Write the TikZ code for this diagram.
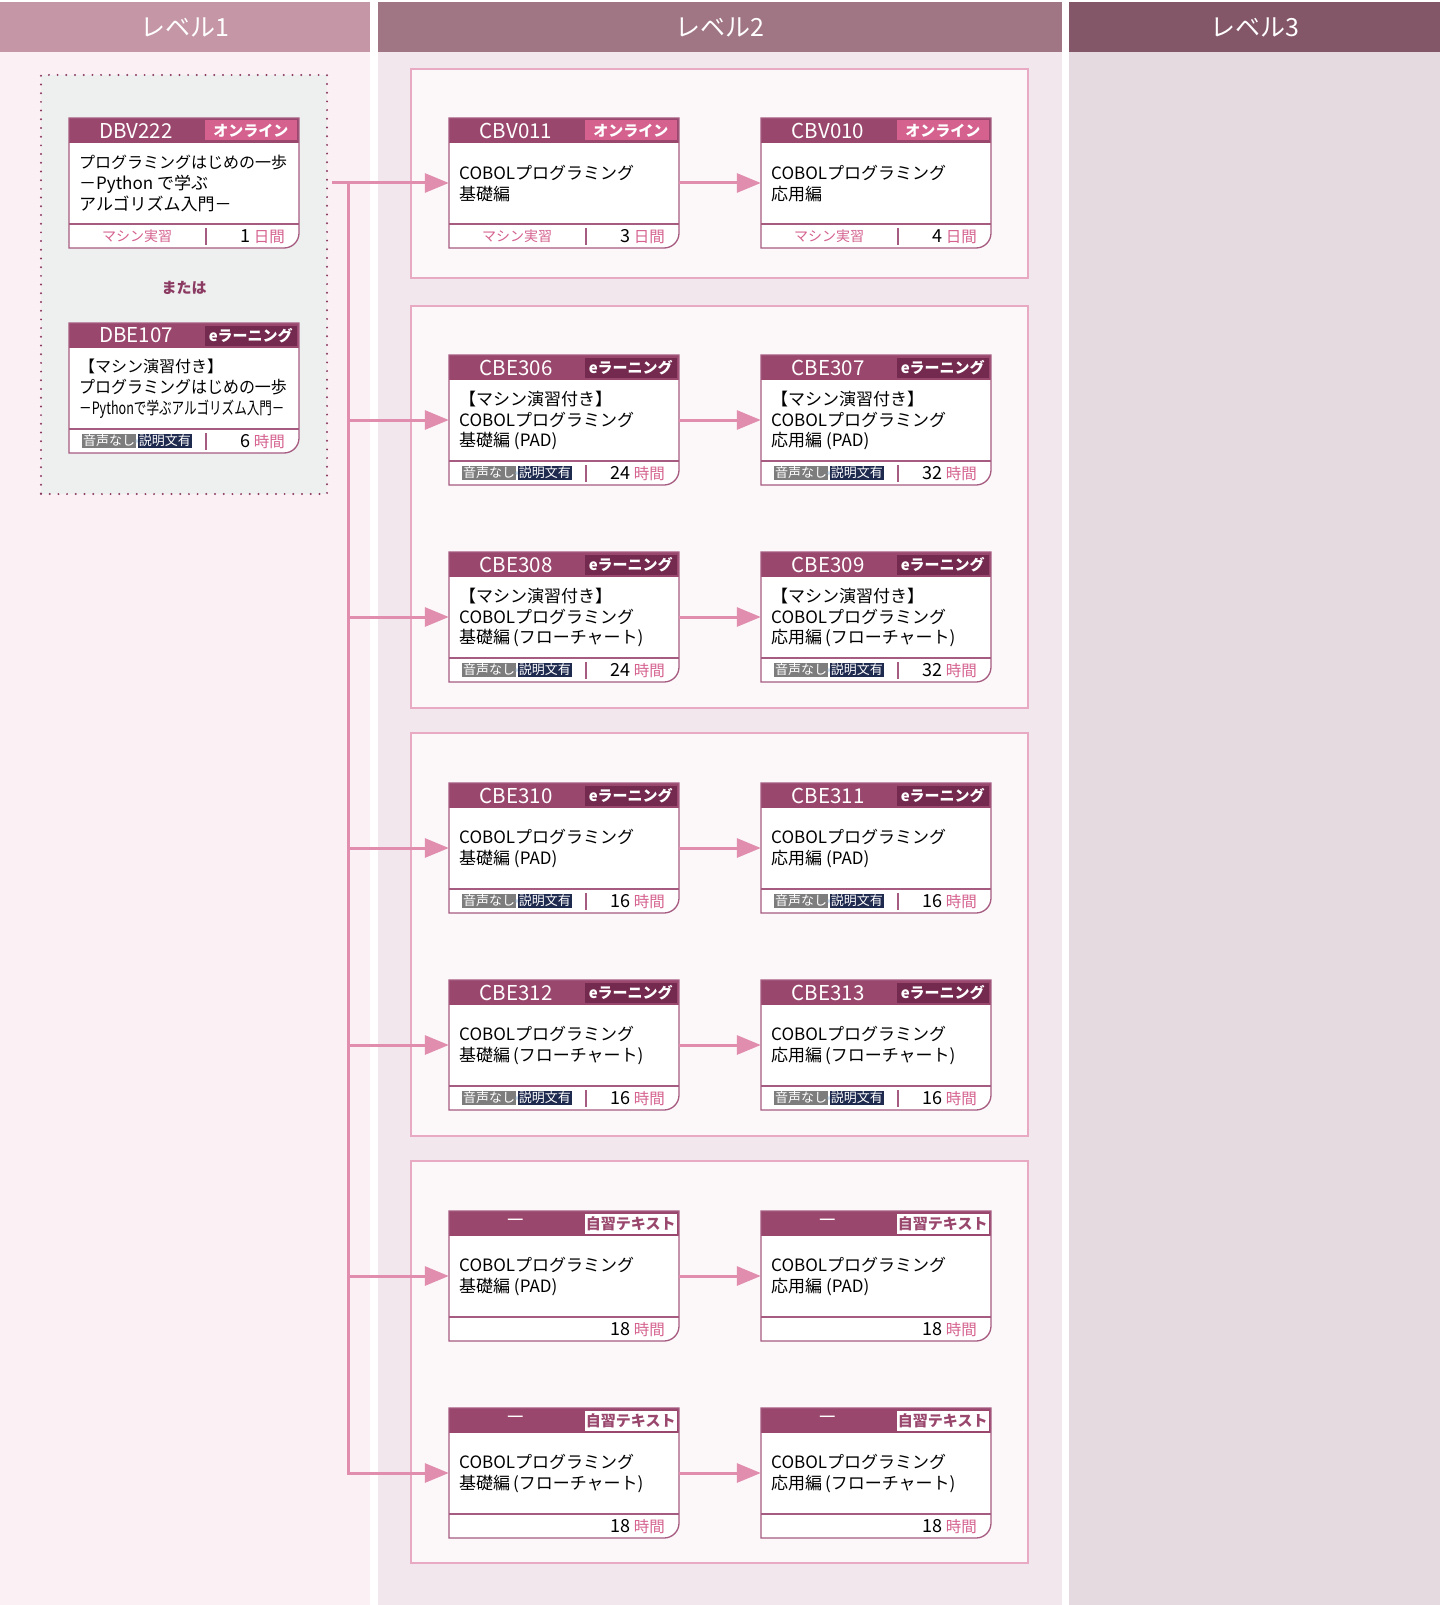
\documentclass[tikz,border=0pt]{standalone}
\usepackage{fontspec}
\setmainfont{Noto Sans CJK JP}
\usepackage{graphicx}
\usetikzlibrary{arrows.meta}

\definecolor{hdr1}{HTML}{C597A6}
\definecolor{hdr2}{HTML}{A07684}
\definecolor{hdr3}{HTML}{835668}
\definecolor{bg1}{HTML}{FBF1F4}
\definecolor{bg2}{HTML}{F1E7EC}
\definecolor{bg3}{HTML}{E5DADF}
\definecolor{altfill}{HTML}{EEF0EF}
\definecolor{dotcol}{HTML}{8B3A62}
\definecolor{grpfill}{HTML}{FCF7F9}
\definecolor{grpline}{HTML}{E7AAC2}
\definecolor{cardhead}{HTML}{9A476D}
\definecolor{cardline}{HTML}{A65B80}
\definecolor{tagpink}{HTML}{D4618E}
\definecolor{tagdark}{HTML}{74294F}
\definecolor{footpink}{HTML}{D5628F}
\definecolor{bgrey}{HTML}{7D7D7D}
\definecolor{bnavy}{HTML}{1F2A4F}
\definecolor{bplus}{HTML}{8FB8D8}
\definecolor{linkpink}{HTML}{E08DAE}

% texts of the tags and of the footers
\newcommand{\tagtxtonline}{オンライン}
\newcommand{\tagtxtelearn}{eラーニング}
\newcommand{\tagtxttext}{自習テキスト}
\newcommand{\footonline}{\textcolor{footpink}{\fontsize{14}{14}\selectfont マシン実習}}
\newcommand{\footelearn}{{\setlength{\fboxsep}{1.2pt}\colorbox{bgrey}{\textcolor{white}{音声なし}}\kern-1.5pt\raisebox{1pt}{\textcolor{bplus}{\fontsize{8}{8}\selectfont +}}\kern-1.5pt\colorbox{bnavy}{\textcolor{white}{説明文有}}}}
\newcommand{\foottext}{}

% #1 name, #2 top left, #3 code, #4 type, #5 title, #6 number, #7 unit
\newcommand{\kurs}[7]{%
  \begin{scope}[shift={#2}]
    \fill[white] (0,0) -- (230,0) -- (230,115) arc[start angle=0,end angle=90,radius=15] -- (0,130) -- cycle;
    \fill[cardhead] (0,0) rectangle (230,25);
    \node[tagbox, tag#4] (#1t) at (181.75,12.5) {\csname tagtxt#4\endcsname};
    \draw[cardline] (0,106) -- (230,106);
    \draw[cardline, div#4] (137,110) -- (137,127);
    \draw[cardline] (0,0) -- (230,0) -- (230,115) arc[start angle=0,end angle=90,radius=15] -- (0,130) -- cycle;
    \node[hdrtxt] (#1c) at (67,12.5) {#3};
    \node[bodytxt] (#1b) at (10,65.5) {#5};
    \node[foottxt] (#1f) at (68,118) {\csname foot#4\endcsname};
    \node[numtxt] (#1n) at (216,118.5) {#6\,{\fontsize{15.5}{15.5}\selectfont\textcolor{footpink}{#7}}};
    \node[cardnode] (#1) at (115,65) {};
  \end{scope}}

\begin{document}
\begin{tikzpicture}[x=1pt,y=-1pt]
\tikzstyle{lvhead} = [minimum height=50pt, inner sep=0pt, text=white, font=\fontsize{25}{25}\selectfont] % level header
\tikzstyle{grp} = [draw=grpline, fill=grpfill, line width=1.5pt] % group of courses
\tikzstyle{altbox} = [draw=dotcol, fill=altfill, line width=2.2pt, dash pattern=on 0pt off 8.7pt, line cap=round, inner sep=0pt] % dotted box of level 1
\tikzstyle{cardline} = [draw=cardline, line width=1.3pt]
\tikzstyle{divonline} = []
\tikzstyle{divelearn} = []
\tikzstyle{divtext} = [draw=none] % no divider for self-study texts
\tikzstyle{cardnode} = [minimum width=230pt, minimum height=130pt, inner sep=0pt] % whole course card
\tikzstyle{tagbox} = [minimum width=92.5pt, minimum height=20pt, inner sep=0pt, font=\bfseries\fontsize{15}{15}\selectfont]
\tikzstyle{tagonline} = [fill=tagpink, text=white]
\tikzstyle{tagelearn} = [fill=tagdark, text=white]
\tikzstyle{tagtext} = [fill=white, text=cardhead]
\tikzstyle{hdrtxt} = [text=white, inner sep=0pt, font=\fontsize{20.5}{20.5}\selectfont]
\tikzstyle{bodytxt} = [anchor=west, align=left, inner sep=0pt, font=\fontsize{17}{20.8}\selectfont]
\tikzstyle{foottxt} = [inner sep=0pt, font=\fontsize{13}{13}\selectfont]
\tikzstyle{numtxt} = [anchor=east, inner sep=0pt, font=\fontsize{18}{18}\selectfont]
\tikzstyle{link} = [draw=linkpink, line width=3pt, -{Triangle[length=24pt,width=19pt]}] % pink arrow

\useasboundingbox (0,0) rectangle (1440,1605);

% columns
\fill[bg1] (0,52) rectangle (370,1605);
\fill[bg2] (378,52) rectangle (1062,1605);
\fill[bg3] (1069,52) rectangle (1440,1605);
\node[lvhead, fill=hdr1, minimum width=370pt] (lv1) at (185,27) {レベル1};
\node[lvhead, fill=hdr2, minimum width=684pt] (lv2) at (720,27) {レベル2};
\node[lvhead, fill=hdr3, minimum width=371pt] (lv3) at (1254.5,27) {レベル3};

% groups
\draw[grp] (411,69) rectangle (1028,278);
\draw[grp] (411,306) rectangle (1028,708);
\draw[grp] (411,733) rectangle (1028,1136);
\draw[grp] (411,1161) rectangle (1028,1563);

% level 1
\node[altbox, minimum width=286pt, minimum height=419pt] (alt) at (184,284.5) {};
\kurs{dbv222}{(69,118)}{DBV222}{online}{\fontsize{16}{20.3}\selectfont プログラミングはじめの一歩\\－Python で学ぶ\\アルゴリズム入門－}{1}{日間}
\node[text=dotcol, font=\bfseries\fontsize{15}{15}\selectfont] (oder) at (184,288) {または};
\kurs{dbe107}{(69,323)}{DBE107}{elearn}{\fontsize{16}{20.8}\selectfont 【マシン演習付き】\\\scalebox{0.94}[1]{プログラミングはじめの一歩}\\\scalebox{0.74}[1]{－Pythonで学ぶアルゴリズム入門－}}{6}{時間}

% level 2
\kurs{c011}{(449,118)}{CBV011}{online}{COBOLプログラミング\\基礎編}{3}{日間}
\kurs{c010}{(761,118)}{CBV010}{online}{COBOLプログラミング\\応用編}{4}{日間}
\kurs{c306}{(449,355)}{CBE306}{elearn}{【マシン演習付き】\\COBOLプログラミング\\基礎編 (PAD)}{24}{時間}
\kurs{c307}{(761,355)}{CBE307}{elearn}{【マシン演習付き】\\COBOLプログラミング\\応用編 (PAD)}{32}{時間}
\kurs{c308}{(449,552)}{CBE308}{elearn}{【マシン演習付き】\\COBOLプログラミング\\基礎編\,(フローチャート)}{24}{時間}
\kurs{c309}{(761,552)}{CBE309}{elearn}{【マシン演習付き】\\COBOLプログラミング\\応用編\,(フローチャート)}{32}{時間}
\kurs{c310}{(449,783)}{CBE310}{elearn}{COBOLプログラミング\\基礎編 (PAD)}{16}{時間}
\kurs{c311}{(761,783)}{CBE311}{elearn}{COBOLプログラミング\\応用編 (PAD)}{16}{時間}
\kurs{c312}{(449,980)}{CBE312}{elearn}{COBOLプログラミング\\基礎編\,(フローチャート)}{16}{時間}
\kurs{c313}{(761,980)}{CBE313}{elearn}{COBOLプログラミング\\応用編\,(フローチャート)}{16}{時間}
\kurs{tpk}{(449,1211)}{－}{text}{COBOLプログラミング\\基礎編 (PAD)}{18}{時間}
\kurs{tpo}{(761,1211)}{－}{text}{COBOLプログラミング\\応用編 (PAD)}{18}{時間}
\kurs{tfk}{(449,1408)}{－}{text}{COBOLプログラミング\\基礎編\,(フローチャート)}{18}{時間}
\kurs{tfo}{(761,1408)}{－}{text}{COBOLプログラミング\\応用編\,(フローチャート)}{18}{時間}

% connectors
\coordinate (trunk) at (348,183);
\draw[link] ([xshift=4pt]alt.east |- c011.west) -- (c011.west);
\foreach \k in {c306,c308,c310,c312,tpk,tfk}
  \draw[link] (trunk) |- (\k.west);
\foreach \a/\b in {c011/c010,c306/c307,c308/c309,c310/c311,c312/c313,tpk/tpo,tfk/tfo}
  \draw[link] (\a.east) -- (\b.west);
\end{tikzpicture}
\end{document}
